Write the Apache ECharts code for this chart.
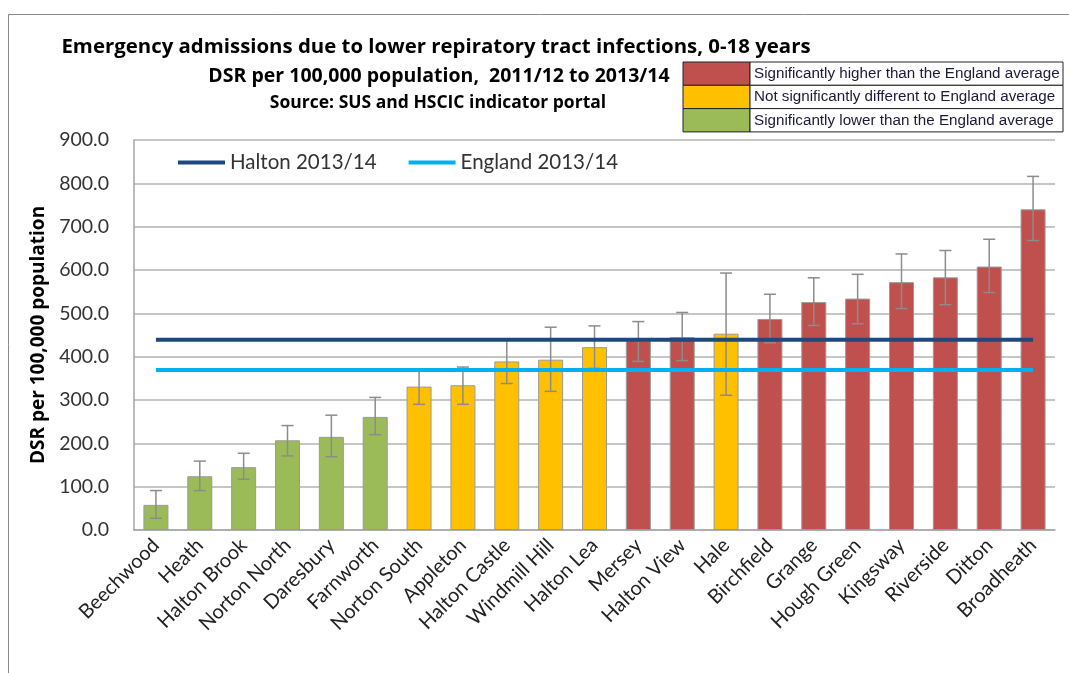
<!DOCTYPE html>
<html>
<head>
<meta charset="utf-8">
<script src="https://cdn.jsdelivr.net/npm/echarts@6/dist/echarts.min.js"></script>
<style>
  html, body { margin: 0; padding: 0; background: #fff; }
  #chart { width: 1069px; height: 673px; }
</style>
</head>
<body>
<div id="chart"></div>
<script>
// wards, ordered by rate
const wards = ['Beechwood', 'Heath', 'Halton Brook', 'Norton North', 'Daresbury', 'Farnworth',
    'Norton South', 'Appleton', 'Halton Castle', 'Windmill Hill', 'Halton Lea', 'Mersey',
    'Halton View', 'Hale', 'Birchfield', 'Grange', 'Hough Green', 'Kingsway', 'Riverside',
    'Ditton', 'Broadheath']
// DSR per 100,000
const dsr = [58, 124, 145, 207, 215, 261, 331, 334, 389, 393, 422, 438, 445, 453, 487, 526, 534, 572, 583, 608, 740]
// 95% confidence limits
const lowerCI = [27, 91, 117, 171, 169, 220, 290, 290, 338, 320, 373, 389, 391, 311, 432, 472, 476, 511, 520, 548, 668]
const upperCI = [91, 159, 177, 241, 265, 306, 372, 376, 440, 468, 471, 481, 502, 593, 544, 582, 590, 637, 645, 671, 816]
// H = higher, S = similar, L = lower than England
const significance = ['L', 'L', 'L', 'L', 'L', 'L', 'S', 'S', 'S', 'S', 'S', 'H', 'H', 'S', 'H', 'H', 'H', 'H', 'H', 'H', 'H']
// comparator lines
const haltonLine = [['Beechwood', 439], ['Broadheath', 439]]
const englandLine = [['Beechwood', 369], ['Broadheath', 369]]

const sigColors = { H: '#C0504D', S: '#FFC000', L: '#9BBB59' }
const sigLabels = [
    ['H', 'Significantly higher than the England average'],
    ['S', 'Not significantly different to England average'],
    ['L', 'Significantly lower than the England average']
]
const font = 'Lato, "Open Sans", sans-serif'
const boldFont = '"Open Sans", Lato, sans-serif'

const chart = echarts.init(document.getElementById('chart'))

// 右上角的显著性图例（表格样式）
const legendBox = []
sigLabels.forEach((row, i) => {
    const y = 62 + i * 23.3
    legendBox.push({
        type: 'rect', shape: { x: 683, y: y, width: 67, height: 23.3 },
        style: { fill: sigColors[row[0]], stroke: '#222', lineWidth: 1 }
    })
    legendBox.push({
        type: 'rect', shape: { x: 750, y: y, width: 313, height: 23.3 },
        style: { fill: '#fff', stroke: '#222', lineWidth: 1 }
    })
    legendBox.push({
        type: 'text', x: 754, y: y + 12,
        style: { text: row[1], font: '15.2px "Liberation Sans", Arial, sans-serif', fill: '#1a1a3a', verticalAlign: 'middle' }
    })
})

const option = {
    animation: false,
    graphic: [
        { type: 'rect', shape: { x: 8.5, y: 14.5, width: 1200, height: 800 }, style: { fill: 'none', stroke: '#8a8a8a', lineWidth: 1 } },
        { type: 'text', x: 436, y: 47, style: { text: 'Emergency admissions due to lower repiratory tract infections, 0-18 years', font: 'bold 20.4px ' + boldFont, fill: '#000', align: 'center', verticalAlign: 'middle' } },
        { type: 'text', x: 439, y: 76, style: { text: 'DSR per 100,000 population,  2011/12 to 2013/14', font: 'bold 19.5px ' + boldFont, fill: '#000', align: 'center', verticalAlign: 'middle' } },
        { type: 'text', x: 438, y: 103, style: { text: 'Source: SUS and HSCIC indicator portal', font: 'bold 17.5px ' + boldFont, fill: '#000', align: 'center', verticalAlign: 'middle' } },
        ...legendBox
    ],
    legend: {
        data: ['Halton 2013/14', 'England 2013/14'],
        left: 173,
        top: 147,
        icon: 'rect',
        itemWidth: 47,
        itemHeight: 4,
        itemGap: 32,
        textStyle: { fontFamily: font, fontSize: 20.5, color: '#333' }
    },
    grid: { left: 134, right: 14, top: 140, bottom: 143 },
    xAxis: {
        type: 'category',
        data: wards,
        axisLine: { lineStyle: { color: '#a6a6a6', width: 1.5 } },
        axisTick: { show: false },
        axisLabel: {
            rotate: 45,
            interval: 0,
            margin: 12,
            fontFamily: font,
            fontSize: 20,
            color: '#222'
        }
    },
    yAxis: {
        type: 'value',
        min: 0,
        max: 900,
        interval: 100,
        name: 'DSR per 100,000 population',
        nameLocation: 'middle',
        nameGap: 83,
        nameTextStyle: { fontFamily: boldFont, fontWeight: 'bold', fontSize: 19, color: '#000' },
        axisLine: { show: true, lineStyle: { color: '#a6a6a6', width: 1.5 } },
        axisTick: { show: false },
        axisLabel: {
            margin: 25,
            fontFamily: font,
            fontSize: 19.5,
            color: '#333',
            formatter: v => v.toFixed(1)
        },
        splitLine: { lineStyle: { color: '#b3b3b3', width: 1.5 } }
    },
    series: [
        {
            name: 'DSR',
            type: 'bar',
            barWidth: 25,
            data: dsr.map((v, i) => ({
                value: v,
                itemStyle: { color: sigColors[significance[i]] }
            })),
            itemStyle: { borderColor: '#9a9a9a', borderWidth: 1 },
            z: 2
        },
        {
            name: '95% CI',
            type: 'custom',
            data: wards.map((w, i) => [i, lowerCI[i], upperCI[i]]),
            renderItem: (params, api) => {
                const lo = api.coord([api.value(0), api.value(1)])
                const hi = api.coord([api.value(0), api.value(2)])
                const half = 6
                const style = { stroke: '#8c8c8c', lineWidth: 1.5 }
                return {
                    type: 'group',
                    children: [
                        { type: 'line', shape: { x1: lo[0], y1: lo[1], x2: hi[0], y2: hi[1] }, style },
                        { type: 'line', shape: { x1: lo[0] - half, y1: lo[1], x2: lo[0] + half, y2: lo[1] }, style },
                        { type: 'line', shape: { x1: hi[0] - half, y1: hi[1], x2: hi[0] + half, y2: hi[1] }, style }
                    ]
                }
            },
            z: 3
        },
        {
            name: 'Halton 2013/14',
            type: 'line',
            data: haltonLine,
            showSymbol: false,
            itemStyle: { color: '#1F497D' },
            lineStyle: { color: '#1F497D', width: 4 },
            z: 4
        },
        {
            name: 'England 2013/14',
            type: 'line',
            data: englandLine,
            showSymbol: false,
            itemStyle: { color: '#00B0F0' },
            lineStyle: { color: '#00B0F0', width: 4 },
            z: 4
        }
    ]
}

chart.setOption(option)
</script>
</body>
</html>
